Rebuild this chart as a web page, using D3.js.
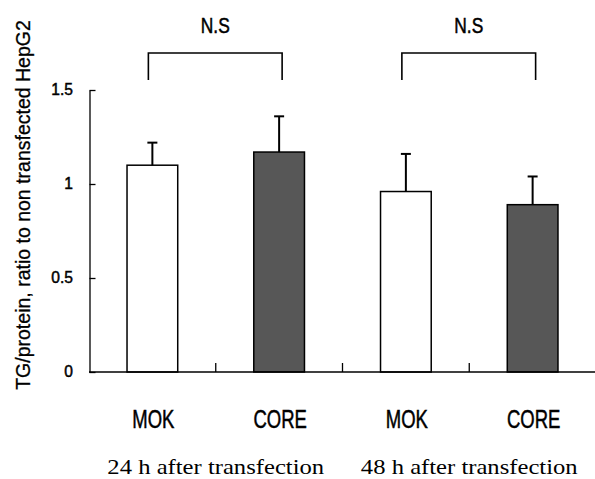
<!DOCTYPE html>
<html>
<head>
<meta charset="utf-8">
<script src="https://cdn.jsdelivr.net/npm/d3@7/dist/d3.min.js"></script>
<style>
  html, body { margin: 0; padding: 0; background: #fff; }
  svg { display: block; }
</style>
</head>
<body>
<svg id="chart" width="595" height="479"></svg>
<script>
// Triglyceride content of transfected HepG2 cells, relative to untransfected cells
const categories = ["MOK", "CORE", "MOK", "CORE"];
const groupLabels = ["24 h after transfection", "48 h after transfection"];
const means = [1.10, 1.17, 0.96, 0.89];
const errors = [0.12, 0.19, 0.20, 0.15];
const yTicks = [0, 0.5, 1, 1.5];
const yTickLabels = ["0", "0.5", "1", "1.5"];
const significance = ["N.S", "N.S"];
const yTitle = "TG/protein, ratio to non transfected HepG2";

const SANS = "'Liberation Sans', Arial, sans-serif";
const SERIF = "'Liberation Serif', 'Times New Roman', serif";

const svg = d3.select("#chart");

const x = d3.scaleBand()
  .domain(d3.range(categories.length))
  .range([89, 596])
  .paddingInner(0.6)
  .paddingOuter(0.3);

const y = d3.scaleLinear().domain([0, 1.5]).range([372, 90]);

const fills = ["#ffffff", "#575757", "#ffffff", "#575757"];

// condensed label: a horizontally squeezed sans text anchored at (cx, baseline)
function narrowText(parent, cx, by, txt, size, sx, anchor) {
  return parent.append("text")
    .attr("transform", `translate(${cx},${by}) scale(${sx},1)`)
    .attr("text-anchor", anchor || "middle")
    .attr("font-family", SANS)
    .attr("font-size", size)
    .attr("fill", "#000")
    .attr("stroke", "#000")
    .attr("stroke-width", 0.5)
    .text(txt);
}

// y axis: ticks point inward, labels drawn separately to the left
const yAxis = d3.axisLeft(y)
  .tickValues(yTicks)
  .tickFormat("")
  .tickSizeInner(-6)
  .tickSizeOuter(0);

const gy = svg.append("g").attr("transform", "translate(89.5,0)").call(yAxis);
gy.select(".domain").attr("stroke", "#000").attr("stroke-width", 1.3);
gy.selectAll(".tick line").attr("stroke", "#000").attr("stroke-width", 1.3);

const yl = svg.append("g");
yTicks.forEach((t, i) => narrowText(yl, 73, y(t) + 5, yTickLabels[i], 17, 0.92, "end"));

// bars
svg.append("g").selectAll("rect")
  .data(means)
  .join("rect")
  .attr("x", (d, i) => x(i))
  .attr("y", d => y(d))
  .attr("width", x.bandwidth())
  .attr("height", d => y(0) - y(d))
  .attr("fill", (d, i) => fills[i])
  .attr("stroke", "#000")
  .attr("stroke-width", 1.5);

// error bars (upper half only)
const eb = svg.append("g").attr("stroke", "#000").attr("stroke-width", 2);
means.forEach((m, i) => {
  const cx = x(i) + x.bandwidth() / 2;
  eb.append("line").attr("x1", cx).attr("x2", cx).attr("y1", y(m)).attr("y2", y(m + errors[i]));
  eb.append("line").attr("x1", cx - 5).attr("x2", cx + 5).attr("y1", y(m + errors[i])).attr("y2", y(m + errors[i]));
});

// x axis baseline with small ticks at band boundaries
const base = svg.append("g").attr("stroke", "#000").attr("stroke-width", 1.3);
base.append("line").attr("x1", 89).attr("x2", 596).attr("y1", y(0)).attr("y2", y(0));
d3.range(1, categories.length).forEach(i => {
  const bx = x(i) - (x.step() - x.bandwidth()) / 2;
  base.append("line").attr("x1", bx).attr("x2", bx).attr("y1", y(0)).attr("y2", y(0) - 9);
});

// category labels
const cl = svg.append("g");
categories.forEach((c, i) => narrowText(cl, x(i) + x.bandwidth() / 2 + 1, 428, c, 25, 0.74));

// group labels
svg.append("g").selectAll("text")
  .data(groupLabels)
  .join("text")
  .attr("transform", (d, i) => `translate(${(x(2 * i) + x(2 * i + 1) + x.bandwidth()) / 2},474) scale(1.12,1)`)
  .attr("text-anchor", "middle")
  .attr("font-family", SERIF)
  .attr("font-size", 22)
  .attr("fill", "#000")
  .text(d => d);

// significance brackets
const br = svg.append("g").attr("fill", "none").attr("stroke", "#000").attr("stroke-width", 1.6);
significance.forEach((s, g) => {
  const x1 = x(2 * g) + x.bandwidth() / 2 - 4;
  const x2 = x(2 * g + 1) + x.bandwidth() / 2 + 3;
  br.append("path").attr("d", `M${x1},80 V53 H${x2} V80`);
  narrowText(svg, (x1 + x2) / 2, 33, s, 22, 0.79);
});

// y axis title
svg.append("text")
  .attr("transform", "translate(30,205) rotate(-90)")
  .attr("text-anchor", "middle")
  .attr("font-family", SANS)
  .attr("font-size", 19.5)
  .attr("fill", "#000")
  .attr("stroke", "#000")
  .attr("stroke-width", 0.3)
  .text(yTitle);
</script>
</body>
</html>
